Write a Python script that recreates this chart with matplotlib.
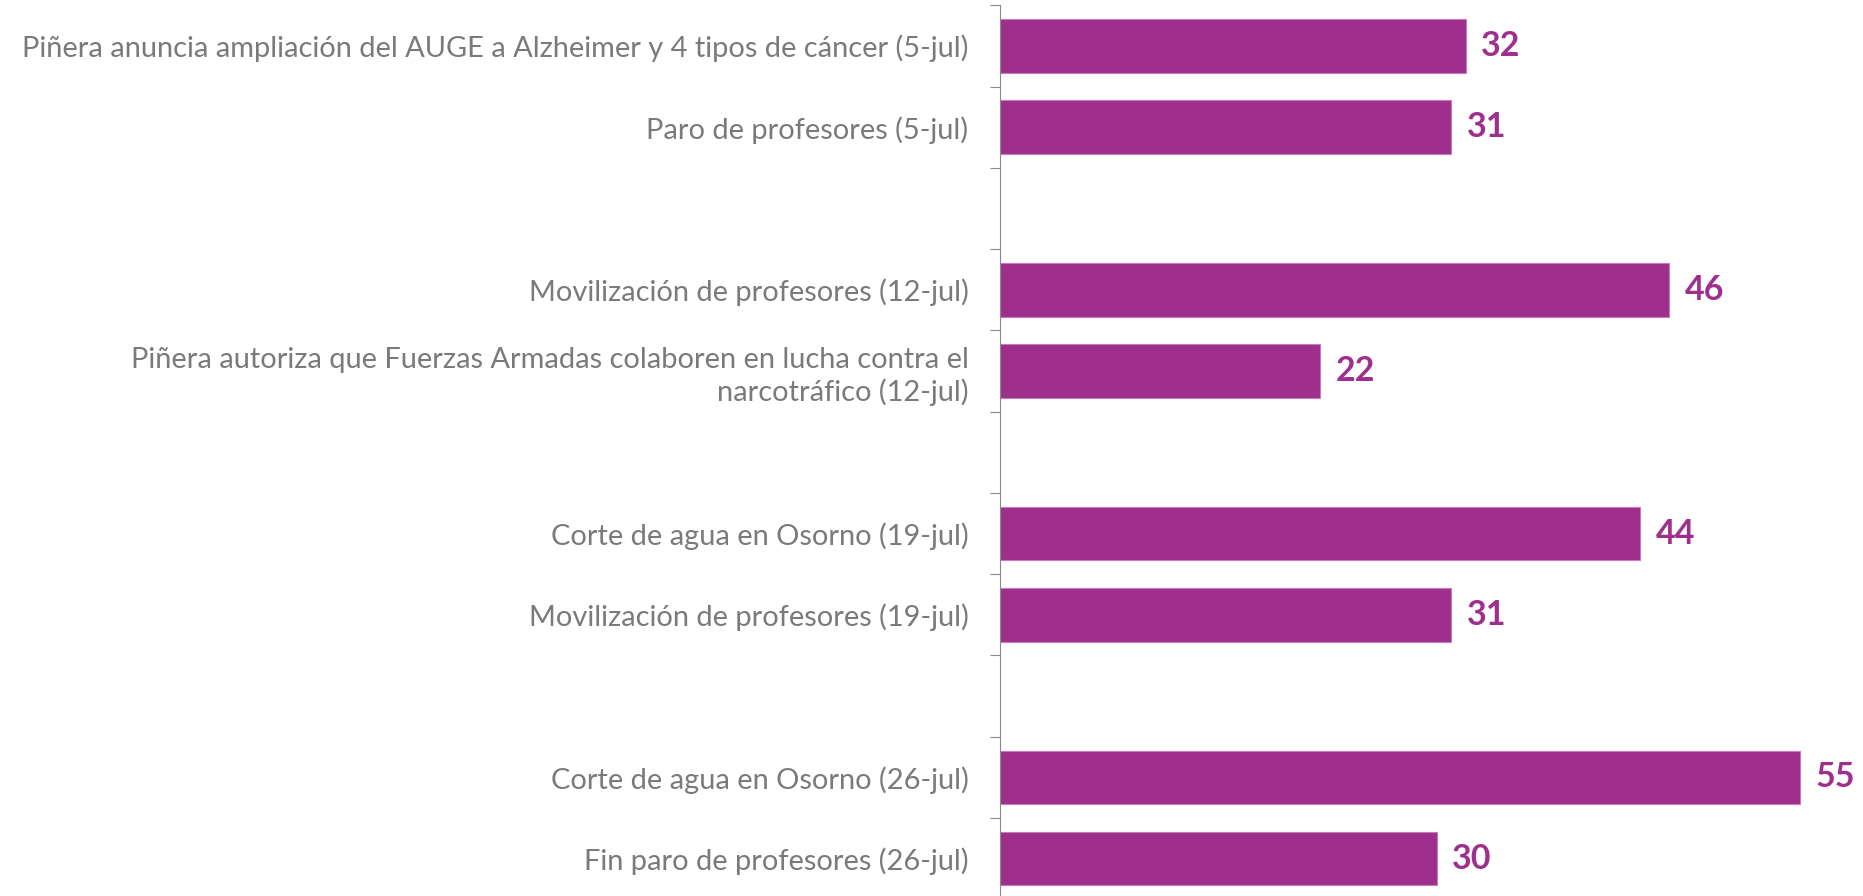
import matplotlib.pyplot as plt
import numpy as np

# categorías (las vacías separan las semanas)
categories = ['Piñera anuncia ampliación del AUGE a Alzheimer y 4 tipos de cáncer (5-jul)',
              'Paro de profesores (5-jul)',
              '',
              'Movilización de profesores (12-jul)',
              'Piñera autoriza que Fuerzas Armadas colaboren en lucha contra el\nnarcotráfico (12-jul)',
              '',
              'Corte de agua en Osorno (19-jul)',
              'Movilización de profesores (19-jul)',
              '',
              'Corte de agua en Osorno (26-jul)',
              'Fin paro de profesores (26-jul)']
values = [32, 31, None, 46, 22, None, 44, 31, None, 55, 30]

bar_color = '#9F2F8D'
gray = '#7A7A7A'

fig = plt.figure(figsize=(18.63, 8.96), dpi=100)
ax = fig.add_axes([0.537, -0.0037, 0.463, 0.9978])

pos = np.arange(len(categories))
bar_pos = [p for p, v in zip(pos, values) if v is not None]
bar_val = [v for v in values if v is not None]

bars = ax.barh(bar_pos, bar_val, height=0.66, color=bar_color, edgecolor='#C27DB8', linewidth=0.8)
ax.bar_label(bars, padding=11, color=bar_color, fontsize=24.5, fontweight='bold', family='Lato')

ax.set_xlim(0, 59.33)
ax.set_ylim(len(categories) - 0.5, -0.5)

# etiquetas en el centro de cada categoría, marcas entre categorías
ax.set_yticks(pos)
ax.set_yticklabels(categories, fontsize=20.9, color=gray, family='Lato', fontweight='normal',
                   linespacing=1.27)
ax.tick_params(axis='y', which='major', length=0, pad=23)
ax.set_yticks(np.arange(-0.5, len(categories), 1.0), minor=True)
ax.tick_params(axis='y', which='minor', length=7.2, width=0.8, color='#898989')

ax.xaxis.set_visible(False)
for s in ['top', 'right', 'bottom']:
    ax.spines[s].set_visible(False)
ax.spines['left'].set_color('#898989')
ax.spines['left'].set_linewidth(0.8)

fig.savefig('out.png', dpi=100)
